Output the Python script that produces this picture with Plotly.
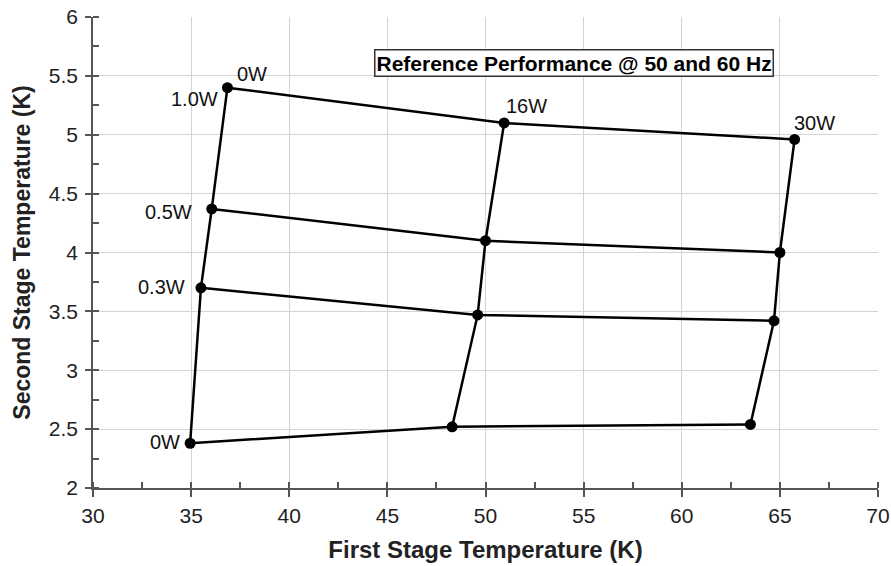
import plotly.graph_objects as go

# First-stage loads (columns) and second-stage loads (rows)
first_stage_loads = ["0W", "16W", "30W"]
second_stage_loads = ["0W", "0.3W", "0.5W", "1.0W"]

# First stage temperature (K): rows = second stage load, cols = first stage load
t1 = [
    [34.95, 48.3, 63.5],
    [35.5, 49.6, 64.7],
    [36.05, 50.0, 65.0],
    [36.85, 50.95, 65.75],
]
# Second stage temperature (K)
t2 = [
    [2.38, 2.52, 2.54],
    [3.70, 3.47, 3.42],
    [4.37, 4.10, 4.00],
    [5.40, 5.10, 4.96],
]

x_ticks = [30, 35, 40, 45, 50, 55, 60, 65, 70]
y_ticks = [2, 2.5, 3, 3.5, 4, 4.5, 5, 5.5, 6]

FONT = "Arial, 'Liberation Sans', sans-serif"
fig = go.Figure()

# rows (constant second-stage load)
for i in range(len(second_stage_loads)):
    fig.add_trace(go.Scatter(
        x=t1[i], y=t2[i], mode="lines+markers",
        line=dict(color="black", width=2.5),
        marker=dict(color="black", size=11),
        showlegend=False, hoverinfo="skip"))
# columns (constant first-stage load)
for j in range(len(first_stage_loads)):
    fig.add_trace(go.Scatter(
        x=[row[j] for row in t1], y=[row[j] for row in t2], mode="lines",
        line=dict(color="black", width=2.5),
        showlegend=False, hoverinfo="skip"))

annotations = []
# first-stage labels above top row
top_shifts = [(8, 14), (0, 17), (-3, 16)]
for j, lab in enumerate(first_stage_loads):
    xs, ys = top_shifts[j]
    annotations.append(dict(x=t1[-1][j], y=t2[-1][j], text=lab, showarrow=False,
                            xanchor="left", yanchor="middle", xshift=xs, yshift=ys,
                            font=dict(family=FONT, size=20, color="#111111")))
# second-stage labels left of first column
left_shifts = [(-8, 1), (-14, 1), (-18, -3), (-7, -11)]
for i, lab in enumerate(second_stage_loads):
    xs, ys = left_shifts[i]
    annotations.append(dict(x=t1[i][0], y=t2[i][0], text=lab, showarrow=False,
                            xanchor="right", yanchor="middle", xshift=xs, yshift=ys,
                            font=dict(family=FONT, size=20, color="#111111")))

annotations.append(dict(x=0.613, y=0.902, xref="paper", yref="paper",
                        text="<b>Reference Performance @ 50 and 60 Hz</b>",
                        showarrow=False, xanchor="center", yanchor="middle",
                        bgcolor="white", bordercolor="#333333", borderwidth=1.5, borderpad=1,
                        font=dict(family=FONT, size=21, color="black")))

fig.update_layout(
    width=891, height=566,
    margin=dict(l=93, r=13, t=17, b=78),
    paper_bgcolor="white", plot_bgcolor="white",
    annotations=annotations,
    font=dict(family=FONT, size=18, color="black"),
)
fig.update_xaxes(
    range=[30, 70], tickvals=x_ticks, ticktext=[str(v) for v in x_ticks],
    automargin=False,
    showgrid=True, gridcolor="#d4d4d4", gridwidth=1,
    showline=True, linecolor="#555555", linewidth=1.5,
    ticks="outside", ticklen=7, tickcolor="#555555", tickwidth=1.5,
    ticklabelstandoff=1,
    minor=dict(dtick=2.5, ticks="inside", ticklen=6, tickcolor="#555555", tickwidth=1.5, showgrid=False),
    zeroline=False, tickfont=dict(family=FONT, size=21, color="#222222"),
    title=dict(text="<b>First Stage Temperature (K)</b>", standoff=15,
               font=dict(family=FONT, size=24, color="#222222")),
)
fig.update_yaxes(
    range=[2, 6], tickvals=y_ticks, ticktext=[f"{v:g}" for v in y_ticks],
    automargin=False,
    showgrid=True, gridcolor="#d4d4d4", gridwidth=1,
    showline=True, linecolor="#555555", linewidth=1.5,
    ticks="outside", ticklen=6, tickcolor="#555555", tickwidth=1.5,
    ticklabelstandoff=3,
    minor=dict(dtick=0.25, ticks="inside", ticklen=6, tickcolor="#555555", tickwidth=1.5, showgrid=False),
    zeroline=False, tickfont=dict(family=FONT, size=21, color="#222222"),
    title=dict(text="<b>Second Stage Temperature (K)</b>", standoff=12,
               font=dict(family=FONT, size=23, color="#222222")),
)

fig.write_html("out.html")
